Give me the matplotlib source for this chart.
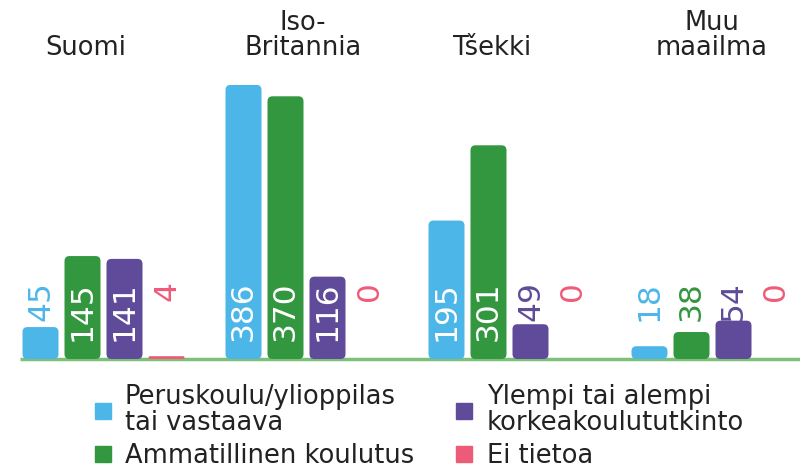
import numpy as np
import matplotlib.pyplot as plt
from matplotlib.patches import FancyBboxPatch
from matplotlib.lines import Line2D

# data
groups = ["Suomi", "Iso-\nBritannia", "Tšekki", "Muu\nmaailma"]
series = ["Peruskoulu/ylioppilas\ntai vastaava", "Ammatillinen koulutus",
          "Ylempi tai alempi\nkorkeakoulututkinto", "Ei tietoa"]
perus = [45, 386, 195, 18]
ammat = [145, 370, 301, 38]
korkea = [141, 116, 49, 54]
ei_tietoa = [4, 0, 0, 0]
values = [perus, ammat, korkea, ei_tietoa]
colors = ["#4db6e8", "#33973f", "#5f4b99", "#ee5b79"]

plt.rcParams['font.family'] = ['DejaVu Sans']

fig = plt.figure(figsize=(8, 4.68), dpi=100)
ax = fig.add_axes([0, 0, 1, 1])
px_x = 203.0      # pixels per group
px_y = 0.71       # pixels per unit
base = 468 - 359  # baseline, px from bottom
ax.set_xlim(-103.5 / px_x, (800 - 103.5) / px_x)
ax.set_ylim(-base / px_y, (468 - base) / px_y)
ax.axis('off')

x = np.arange(len(groups))
step = 42 / px_x
width = 36 / px_x
rad = 5  # corner radius in px
label_top = (359 - 281) / px_y
inside_min = 105

for i, (vals, col) in enumerate(zip(values, colors)):
    xs = x + (i - 1.5) * step
    bars = ax.bar(xs, vals, width, color=col)
    for b, v, xc in zip(bars, vals, xs):
        b.remove()
        if v > 0:
            h = b.get_height()
            r = min(rad, h * px_y / 2)
            p = FancyBboxPatch((b.get_x(), 0), b.get_width(), h,
                               boxstyle=f"round,pad=0,rounding_size={r / px_x}",
                               mutation_aspect=px_x / px_y,
                               fc=col, ec='none', zorder=2)
            ax.add_patch(p)
        inside = v >= inside_min
        ax.text(xc, label_top, str(v), rotation=90, ha='center', va='top',
                fontsize=22.5, color='white' if inside else col, zorder=3)

# baseline
ax.plot([(20 - 103.5) / px_x, (800 - 103.5) / px_x], [0, 0],
        color='#7cc07a', lw=2.5, zorder=1, solid_capstyle='butt')

# group titles
title_x = [86, 303, 492, 712]
for tx, g in zip(title_x, groups):
    ax.text((tx - 103.5) / px_x, (359 - 61) / px_y, g, ha='center', va='bottom',
            fontsize=18.5, color='#222222', linespacing=0.95)

handles = [Line2D([], [], marker='s', ls='none', markersize=11,
                  markerfacecolor=c, markeredgecolor=c) for c in colors]
leg = fig.legend(handles, series, ncol=2, loc='upper left',
                 bbox_to_anchor=(0.101, 0.206), frameon=False,
                 handlelength=0.7, handletextpad=0.52,
                 columnspacing=1.6, labelspacing=0.24, borderpad=0,
                 labelcolor='#222222', prop={'size': 18.5})
plt.setp(leg.get_texts(), linespacing=1.0)

fig.savefig("out.png", dpi=100)
